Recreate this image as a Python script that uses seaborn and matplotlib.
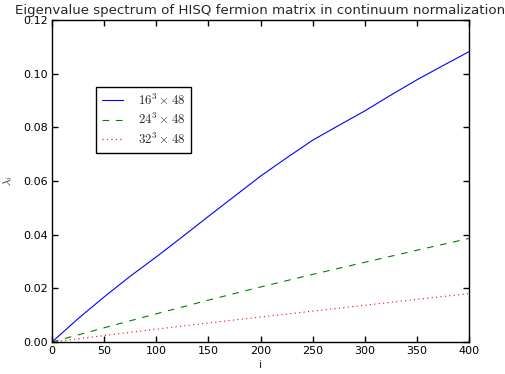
import matplotlib
matplotlib.use("Agg")
import matplotlib.pyplot as plt
import seaborn as sns
import pandas as pd

idx_blue = [0, 25, 50, 75, 100, 125, 150, 175, 200, 225, 250, 275, 300, 325, 350, 375, 400]
lam_16 = [0.0, 0.0087, 0.0168, 0.0245, 0.0317, 0.0392, 0.0468, 0.0543, 0.0618, 0.0686, 0.0752, 0.0807, 0.0861, 0.0920, 0.0977, 0.1030, 0.1082]
idx = [0, 50, 100, 150, 200, 250, 300, 350, 400]
lam_24 = [0.0, 0.0053, 0.0105, 0.0156, 0.0205, 0.0252, 0.0297, 0.0342, 0.0386]
lam_32 = [0.0, 0.0024, 0.0048, 0.0071, 0.0093, 0.0115, 0.0137, 0.0159, 0.0180]
labels = [r"$16^3\times48$", r"$24^3\times48$", r"$32^3\times48$"]

sns.set_style("ticks")
plt.rcParams.update({
    "font.family": ["DejaVu Sans"],
    "mathtext.fontset": "cm",
    "xtick.direction": "in", "ytick.direction": "in",
    "xtick.top": True, "ytick.right": True,
    "xtick.major.size": 4, "ytick.major.size": 4,
    "axes.edgecolor": "black", "axes.linewidth": 1.0,
    "font.size": 8,
})

fig = plt.figure(figsize=(5.06, 3.74), dpi=100)
ax = fig.add_axes([52/506, 32/374, 417/506, 322/374])

sns.lineplot(x=idx_blue, y=lam_16, ax=ax, color="blue", linewidth=0.8, label=labels[0])
sns.lineplot(x=idx, y=lam_24, ax=ax, color="green", linewidth=0.8, linestyle=(0, (6, 6)), label=labels[1])
sns.lineplot(x=idx, y=lam_32, ax=ax, color="red", linewidth=0.8, linestyle=(0, (1, 3)), label=labels[2])

ax.set_xlim(0, 400)
ax.set_ylim(0, 0.12)
ax.set_xticks(range(0, 401, 50))
ax.set_yticks([0, 0.02, 0.04, 0.06, 0.08, 0.10, 0.12])
ax.set_yticklabels([f"{v:.2f}" for v in [0, 0.02, 0.04, 0.06, 0.08, 0.10, 0.12]])
ax.tick_params(labelsize=8, colors="black", width=1, pad=3)
ax.set_xlabel("i", fontsize=8, labelpad=3)
ax.set_ylabel(r"$\lambda_i$", fontsize=8, labelpad=6)
ax.set_title("Eigenvalue spectrum of HISQ fermion matrix in continuum normalization", fontsize=9.6, pad=4)
for s in ax.spines.values():
    s.set_visible(True)
leg = ax.legend(loc="upper left", bbox_to_anchor=(0.1055, 0.793), borderaxespad=0,
                fancybox=False, framealpha=1, edgecolor="black", fontsize=9.2,
                handlelength=1.7, handletextpad=1.1, borderpad=0.45, labelspacing=0.35)
leg.get_frame().set_linewidth(1.0)

fig.savefig("out.png", dpi=100, facecolor="white")
